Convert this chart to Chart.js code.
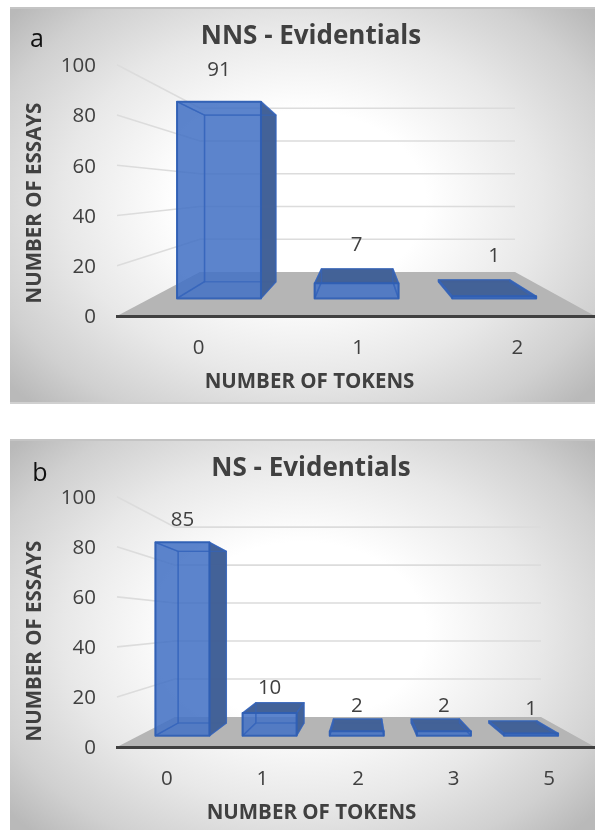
<!DOCTYPE html>
<html lang="en">

<head>
    <meta charset="UTF-8">
    <title>Evidentials</title>
    <script src="https://cdn.jsdelivr.net/npm/chart.js@4/dist/chart.umd.min.js"></script>
    <style>
        html, body { margin: 0; padding: 0; background: #fff; overflow: hidden; }
        .panel {
            position: absolute;
            left: 10px;
            width: 585px;
            border-top: 2px solid #c4c4c4;
            border-bottom: 2px solid #d0d0d0;
            box-sizing: border-box;
            background: radial-gradient(ellipse 66% 72% at 50% 49%, #fff 0%, #fff 32%, #e8e8e8 62%, #d0d0d0 85%, #b9b9b9 100%);
        }
        canvas { position: absolute; left: 0; }
    </style>
</head>

<body>
    <div class="panel" style="top:7px;height:397px"></div>
    <div class="panel" style="top:439px;height:393px"></div>
    <canvas id="chart_a" width="595" height="405" style="top:0"></canvas>
    <canvas id="chart_b" width="595" height="400" style="top:430px"></canvas>

<script>
    const FONT = '"Open Sans", sans-serif';
    const TEXT_COLOR = '#404040';

    const yMax = 100;
    const yStep = 20;
    const yTitle = 'NUMBER OF ESSAYS';
    const xTitle = 'NUMBER OF TOKENS';

    const titleA = 'NNS - Evidentials';
    const categoriesA = ['0', '1', '2'];
    const essaysA = [91, 7, 1];

    const titleB = 'NS - Evidentials';
    const categoriesB = ['0', '1', '2', '3', '5'];
    const essaysB = [85, 10, 2, 2, 1];

    // front plane of the box is the real scale area, back plane is a shrunken copy of it
    function project(chart, o, x, y, d) {
        const a = chart.chartArea;
        const u = (x - a.left) / (a.right - a.left);
        const bx = o.backLeft + u * (o.backRight - o.backLeft);
        const by = o.backBottom - (a.bottom - y) * o.backScale;
        return [x + d * (bx - x), y + d * (by - y)];
    }

    function poly(ctx, pts, fill, stroke) {
        ctx.beginPath();
        pts.forEach((p, i) => i ? ctx.lineTo(p[0], p[1]) : ctx.moveTo(p[0], p[1]));
        ctx.closePath();
        if (fill) { ctx.fillStyle = fill; ctx.fill(); }
        if (stroke) { ctx.strokeStyle = stroke; ctx.stroke(); }
    }

    function hull(points) {
        const pts = points.slice().sort((p, q) => p[0] - q[0] || p[1] - q[1]);
        const cross = (o, a, b) => (a[0] - o[0]) * (b[1] - o[1]) - (a[1] - o[1]) * (b[0] - o[0]);
        const half = list => {
            const out = [];
            list.forEach(p => {
                while (out.length > 1 && cross(out[out.length - 2], out[out.length - 1], p) <= 0) out.pop();
                out.push(p);
            });
            out.pop();
            return out;
        };
        return half(pts).concat(half(pts.slice().reverse()));
    }

    const box3d = {
        id: 'box3d',
        beforeDatasetsDraw(chart, args, o) {
            const ctx = chart.ctx;
            const a = chart.chartArea;
            const yScale = chart.scales.y;
            ctx.save();
            // floor
            poly(ctx, [
                project(chart, o, a.left, a.bottom, 1),
                project(chart, o, a.right, a.bottom, 1),
                [a.right, a.bottom],
                [a.left, a.bottom]
            ], '#b5b5b5');
            // wall lines
            ctx.strokeStyle = '#dcdcdc';
            ctx.lineWidth = 1.6;
            yScale.ticks.forEach(t => {
                if (t.value === 0) return;
                const py = yScale.getPixelForValue(t.value);
                const p1 = project(chart, o, a.left, py, 1);
                const p2 = project(chart, o, a.right, py, 1);
                ctx.beginPath();
                ctx.moveTo(a.left, py);
                ctx.lineTo(p1[0], p1[1]);
                ctx.lineTo(p2[0], p2[1]);
                ctx.stroke();
            });
            ctx.restore();
        },
        afterDatasetsDraw(chart, args, o) {
            const ctx = chart.ctx;
            const yScale = chart.scales.y;
            const light = 'rgba(68,114,196,0.87)';
            const dark = 'rgba(66,96,148,0.92)';
            const edge = 'rgba(47,94,180,0.9)';
            const innerEdge = 'rgba(52,100,188,0.65)';
            ctx.save();
            ctx.lineJoin = 'round';
            chart.getDatasetMeta(0).data.forEach((bar, i) => {
                const l = bar.x - bar.width / 2;
                const r = bar.x + bar.width / 2;
                const t = bar.y;
                const b = yScale.getPixelForValue(0);
                const f = (x, y) => project(chart, o, x, y, o.depthFront);
                const k = (x, y) => project(chart, o, x, y, o.depthBack);
                const fl = f(l, b), fr = f(r, b), ftl = f(l, t), ftr = f(r, t);
                const kl = k(l, b), kr = k(r, b), ktl = k(l, t), ktr = k(r, t);

                poly(ctx, hull([fl, fr, ftl, ftr, kl, kr, ktl, ktr]), light);

                ctx.lineWidth = 1.4;
                // back edges first, they show through the glass
                poly(ctx, [kl, kr, ktr, ktl], null, innerEdge);
                ctx.beginPath();
                ctx.moveTo(fl[0], fl[1]); ctx.lineTo(kl[0], kl[1]);
                ctx.moveTo(fr[0], fr[1]); ctx.lineTo(kr[0], kr[1]);
                ctx.strokeStyle = innerEdge;
                ctx.stroke();

                if (ktr[0] > ftr[0]) poly(ctx, [fr, kr, ktr, ftr], dark);
                if (ktl[0] < ftl[0]) poly(ctx, [fl, kl, ktl, ftl], dark);
                if (ktl[1] < ftl[1]) poly(ctx, [ftl, ftr, ktr, ktl], dark);

                poly(ctx, [ftl, ftr, ktr, ktl], null, innerEdge);
                poly(ctx, [fr, kr, ktr, ftr], null, innerEdge);
                poly(ctx, [fl, kl, ktl, ftl], null, innerEdge);
                ctx.lineWidth = 2;
                poly(ctx, [fl, fr, ftr, ftl], null, edge);

                // value label above the bar
                const top = f(bar.x, t);
                ctx.fillStyle = TEXT_COLOR;
                ctx.font = '20.5px ' + FONT;
                ctx.textAlign = 'center';
                ctx.textBaseline = 'middle';
                ctx.fillText(String(chart.data.datasets[0].data[i]), top[0], top[1] - o.labelLift[i]);
            });

            // axis titles sit off centre of the plot area
            ctx.fillStyle = TEXT_COLOR;
            ctx.font = 'bold 20.5px ' + FONT;
            ctx.textAlign = 'center';
            ctx.textBaseline = 'middle';
            ctx.fillText(xTitle, o.xTitleX, o.xTitleY);
            ctx.save();
            ctx.translate(o.yTitleX, o.yTitleY);
            ctx.rotate(-Math.PI / 2);
            ctx.fillText(yTitle, 0, 0);
            ctx.restore();

            ctx.fillStyle = '#111';
            ctx.font = '25px ' + FONT;
            ctx.fillText(o.panelLetter, o.letterX, o.letterY);
            ctx.restore();
        }
    };

    function makeChart(id, title, categories, values, s) {
        const ctx = document.getElementById(id).getContext('2d');
        return new Chart(ctx, {
            type: 'bar',
            plugins: [box3d],
            data: {
                labels: categories,
                datasets: [{
                    data: values,
                    backgroundColor: 'rgba(0,0,0,0)',
                    borderWidth: 0,
                    barPercentage: s.barPercentage,
                    categoryPercentage: 1
                }]
            },
            options: {
                responsive: false,
                animation: false,
                devicePixelRatio: 1,
                layout: { padding: { left: 27, right: 0, top: 0, bottom: 0 } },
                events: [],
                plugins: {
                    legend: { display: false },
                    tooltip: { enabled: false },
                    title: {
                        display: true,
                        text: title,
                        color: TEXT_COLOR,
                        font: { family: FONT, size: 26, weight: 'bold', lineHeight: 1.2 },
                        padding: s.titlePadding
                    },
                    box3d: s
                },
                scales: {
                    x: {
                        grid: { display: false },
                        border: { display: true, color: '#404040', width: 3, z: 1 },
                        ticks: { color: TEXT_COLOR, font: { family: FONT, size: 20.5 }, padding: 12, labelOffset: 2, maxRotation: 0 },
                        afterFit: scale => { scale.height = s.xHeight; }
                    },
                    y: {
                        min: 0,
                        max: yMax,
                        grid: { display: false, drawTicks: false },
                        border: { display: false },
                        ticks: { stepSize: yStep, color: TEXT_COLOR, font: { family: FONT, size: 20.5 }, padding: 21, labelOffset: 1.5 },
                        afterFit: scale => { scale.width = 90; }
                    }
                }
            }
        });
    }

    makeChart('chart_a', titleA, categoriesA, essaysA, {
        backLeft: 200, backRight: 515, backBottom: 272, backScale: 0.652,
        depthFront: 0.40, depthBack: 0.78,
        barPercentage: 0.61,
        labelLift: [31, 38, 40],
        titlePadding: { top: 20.5, bottom: 13.1 },
        xHeight: 89,
        xTitleX: 309.5, xTitleY: 382,
        yTitleX: 35, yTitleY: 203,
        panelLetter: 'a', letterX: 37, letterY: 40
    });

    makeChart('chart_b', titleB, categoriesB, essaysB, {
        backLeft: 175, backRight: 541, backBottom: 287, backScale: 0.759,
        depthFront: 0.377, depthBack: 0.80,
        barPercentage: 0.62,
        labelLift: [22, 25, 25, 25, 24],
        titlePadding: { top: 22.5, bottom: 13.1 },
        xHeight: 83,
        xTitleX: 311.5, xTitleY: 383,
        yTitleX: 35, yTitleY: 211,
        panelLetter: 'b', letterX: 40, letterY: 44
    });
</script>
</body>

</html>
